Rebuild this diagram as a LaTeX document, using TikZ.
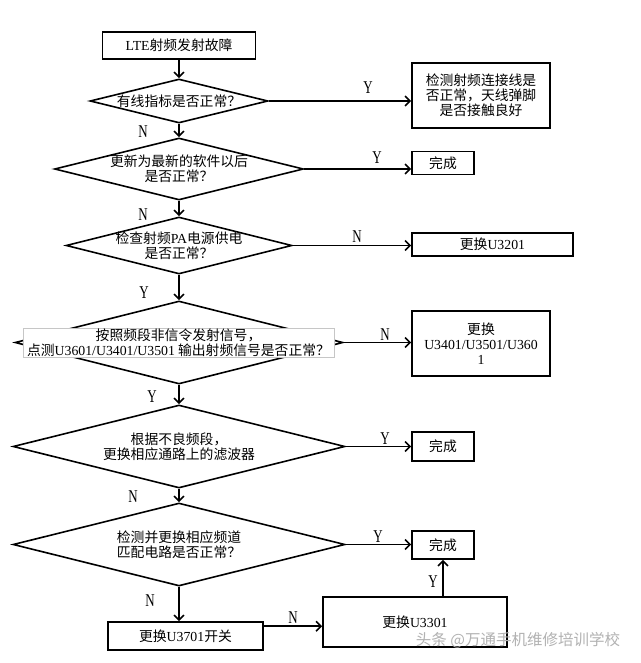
\documentclass[tikz,border=0pt]{standalone}
\usepackage{graphicx}
\usepackage{fontspec}
\setmainfont{Liberation Serif}
\newfontfamily\cjkfnt{Noto Sans CJK SC}
\usetikzlibrary{shapes.geometric,arrows.meta}
\newcommand{\latn}[1]{{\rmfamily #1}}
\newcommand{\mytxtfont}{\cjkfnt\fontsize{13.8}{14.8}\selectfont}
\newcommand{\myynfont}{\rmfamily\fontsize{18}{18}\selectfont}
\newcommand{\yn}[1]{\scalebox{0.72}[1]{#1}}
\tikzset{
  txt/.style={font=\mytxtfont, align=center, inner sep=0pt},
  box/.style={draw, line width=1.6pt, rectangle, inner sep=0pt, align=center, font=\mytxtfont},
  dia/.style={draw, line width=1.6pt, diamond, inner sep=0pt},
  arr/.style={line width=1.6pt, -{Straight Barb[length=5pt,width=10pt]}},
  yn/.style={font=\myynfont, inner sep=0pt},
}
\begin{document}
\begin{tikzpicture}[x=1pt,y=-1pt]
\fill[white] (0,0) rectangle (640,663);
\useasboundingbox (0,0) rectangle (640,663);

\node[box, minimum width=153pt, minimum height=27pt] (lte) at (179,45.5) {\latn{LTE}射频发射故障};
\node[dia, minimum width=178pt, minimum height=44pt] (d1) at (179,101) {};
\node[txt] (t1) at (d1.center) {有线指标是否正常？};
\node[box, minimum width=138pt, minimum height=65pt] (b1) at (481,95.5) {检测射频连接线是\\否正常，天线弹脚\\是否接触良好};

\node[dia, minimum width=249pt, minimum height=62pt] (d2) at (179,169) {};
\node[txt] (t2) at (d2.center) {更新为最新的软件以后\\是否正常？};
\node[box, minimum width=62pt, minimum height=23pt] (ok1) at (443,163) {完成};

\node[dia, minimum width=226pt, minimum height=57pt] (d3) at (179,245.5) {};
\node[txt] (t3) at (d3.center) {检查射频\latn{PA}电源供电\\是否正常？};
\node[box, minimum width=161pt, minimum height=23pt] (b3) at (492.5,244.5) {更换\latn{U3201}};

\node[dia, minimum width=328pt, minimum height=83pt] (d4) at (179,342.5) {};
\node[txt, fill=white, draw=gray!45, line width=0.6pt, minimum width=311pt, minimum height=29pt] (t4) at (178.5,342.5) {按照频段非信令发射信号，\\点测\latn{U3601/U3401/U3501} 输出射频信号是否正常？};
\node[box, minimum width=138pt, minimum height=65pt] (b4) at (481,343.5) {更换\\\latn{U3401/U3501/U360}\\\latn{1}};

\node[dia, minimum width=332pt, minimum height=83pt] (d5) at (179,446.5) {};
\node[txt] (t5) at (d5.center) {根据不良频段，\\更换相应通路上的滤波器};
\node[box, minimum width=62pt, minimum height=29pt] (ok2) at (443,446.5) {完成};

\node[dia, minimum width=332pt, minimum height=83pt] (d6) at (179,544.5) {};
\node[txt] (t6) at (d6.center) {检测并更换相应频道\\匹配电路是否正常？};
\node[box, minimum width=62pt, minimum height=28pt] (ok3) at (443,545) {完成};

\node[box, minimum width=155pt, minimum height=28pt] (b7) at (185.5,636) {更换\latn{U3701}开关};
\node[box, minimum width=184pt, minimum height=50pt] (b8) at (415,622) {更换\latn{U3301}};

\coordinate (c7) at ([yshift=-5pt]b7.north east);

\draw[arr] (lte.south) -- (d1.north);
\draw[arr] (d1.east) -- (d1.east -| b1.west);
\draw[arr] (d1.south) -- (d2.north);
\draw[arr] (d2.east) -- (d2.east -| ok1.west);
\draw[arr] (d2.south) -- (d3.north);
\draw[arr] (d3.east) -- (d3.east -| b3.west);
\draw[arr] (d3.south) -- (d4.north);
\draw[arr] (d4.east) -- (d4.east -| b4.west);
\draw[arr] (d4.south) -- (d5.north);
\draw[arr] (d5.east) -- (d5.east -| ok2.west);
\draw[arr] (d5.south) -- (d6.north);
\draw[arr] (d6.east) -- (d6.east -| ok3.west);
\draw[arr] (d6.south) -- (d6.south |- b7.north);
\draw[arr] (c7) -- (c7 -| b8.west);
\draw[arr] (ok3.south |- b8.north) -- (ok3.south);

\node[yn] (y1) at (368,88) {\yn{Y}};
\node[yn] (n1) at (143,132) {\yn{N}};
\node[yn] (y2) at (377,158) {\yn{Y}};
\node[yn] (n2) at (143,215) {\yn{N}};
\node[yn] (n3) at (357,237) {\yn{N}};
\node[yn] (y3) at (144,293) {\yn{Y}};
\node[yn] (n4) at (385,335) {\yn{N}};
\node[yn] (y4) at (152,397) {\yn{Y}};
\node[yn] (y5) at (385,439) {\yn{Y}};
\node[yn] (n5) at (133,497) {\yn{N}};
\node[yn] (y6) at (378,537) {\yn{Y}};
\node[yn] (n6) at (150,601) {\yn{N}};
\node[yn] (n7) at (293,618) {\yn{N}};
\node[yn] (y7) at (433,582) {\yn{Y}};

\node[font=\cjkfnt\fontsize{15.5}{16}\selectfont, text=gray!60, inner sep=0pt] (wm) at (518,640) {头条 @万通手机维修培训学校};
\end{tikzpicture}
\end{document}
